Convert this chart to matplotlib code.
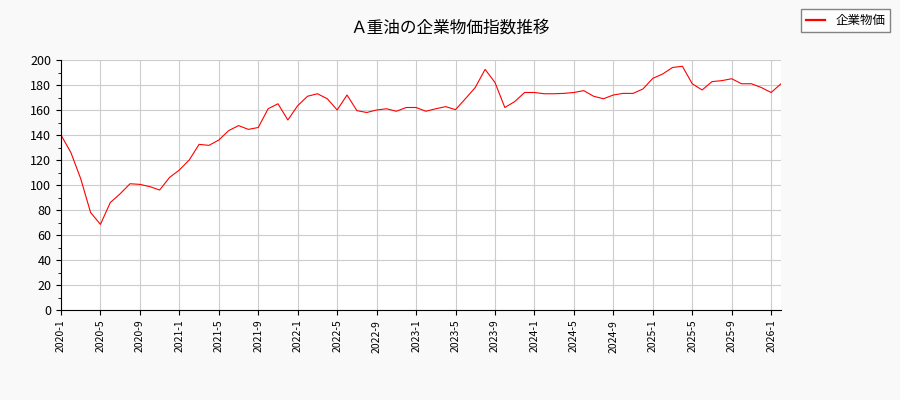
import matplotlib
matplotlib.use("Agg")
import matplotlib.pyplot as plt
from matplotlib.ticker import MultipleLocator

plt.rcParams['font.family'] = ['Noto Sans CJK JP', 'DejaVu Sans']

title = "Ａ重油の企業物価指数推移"
series_name = "企業物価"

# monthly values, 2020-1 .. 2026-2
months = [f"{2020 + k // 12}-{k % 12 + 1}" for k in range(74)]
values = [
    140, 126, 105, 78, 68.5, 86, 93, 101, 100.5, 98.7, 96, 106,
    112, 120, 132.5, 131.7, 136, 143.5, 147.5, 144.5, 146, 161, 165, 152,
    163.5, 171, 173, 169, 160, 172, 159.5, 158, 160, 161, 159, 162,
    162, 159, 161, 162.7, 160.3, 169, 178, 192.5, 182, 162, 166.7, 174,
    174, 173, 173, 173.3, 174, 175.5, 171, 169, 172, 173.3, 173.3, 176.8,
    185.3, 188.8, 194, 195, 181, 176, 182.7, 183.5, 185, 181, 181, 178,
    174, 181,
]
tick_step = 4

fig = plt.figure(figsize=(9, 4), dpi=100, facecolor="#f9f9f9")
ax = fig.add_axes([61 / 900, 1 - 310 / 400, 720 / 900, 250 / 400])
ax.set_facecolor("white")

x = list(range(len(values)))
line, = ax.plot(x, values, color="red", linewidth=0.8, label=series_name)

ax.set_xlim(0, len(values) - 1)
ax.set_ylim(0, 200)
ax.set_xticks(x[::tick_step])
ax.set_xticklabels(months[::tick_step], rotation=90, fontsize=7.5)
ax.yaxis.set_major_locator(MultipleLocator(20))
ax.yaxis.set_minor_locator(MultipleLocator(10))
ax.tick_params(axis='y', labelsize=9)
ax.grid(True, color="#cccccc", linewidth=0.8)
ax.set_axisbelow(True)
for sp in ("top", "right"):
    ax.spines[sp].set_visible(False)

fig.text(0.5, 1 - 28 / 400, title, ha="center", va="center", fontsize=12)
leg = fig.legend(handles=[line], loc="upper right", bbox_to_anchor=(0.996, 0.992),
                 fontsize=9, frameon=True, fancybox=False, edgecolor="#666666",
                 handlelength=1.5)
for h in leg.legend_handles:
    h.set_linewidth(1.6)

fig.savefig("out.png", dpi=100, facecolor=fig.get_facecolor())
